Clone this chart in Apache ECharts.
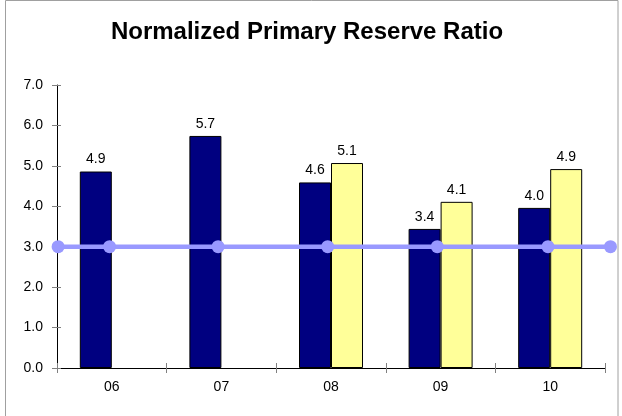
<!DOCTYPE html>
<html>
<head>
<meta charset="utf-8">
<script src="https://cdn.jsdelivr.net/npm/echarts@6/dist/echarts.min.js"></script>
<style>
html,body{margin:0;padding:0;background:#fff;}
#chart{width:622px;height:416px;}
</style>
</head>
<body>
<div id="chart"></div>
<script>
var categories = ['06', '07', '08', '09', '10'];
var navyValues = [4.86, 5.74, 4.59, 3.44, 3.96];
var yellowValues = [null, null, 5.07, 4.11, 4.92];
var lineX = [-0.49, -0.02, 0.97, 1.97, 2.97, 3.98, 4.55];
var lineY = [3.0, 3.0, 3.0, 3.0, 3.0, 3.0, 3.0];
var yTicks = [0, 1, 2, 3, 4, 5, 6, 7];

var FONT = 'Liberation Sans, Arial, sans-serif';
var chart = echarts.init(document.getElementById('chart'), null, {renderer: 'canvas'});

var lineData = lineX.map(function (x, i) { return [x, lineY[i]]; });

var labelCfg = {
  show: true,
  position: 'top',
  distance: 5,
  color: '#000',
  fontFamily: FONT,
  fontSize: 14,
  formatter: function (p) { return p.value == null ? '' : Number(p.value).toFixed(1); }
};

chart.setOption({
  animation: false,
  backgroundColor: '#fff',
  graphic: [{
    type: 'rect',
    shape: {x: 5.5, y: 0.5, width: 612.5, height: 420},
    style: {fill: 'none', stroke: '#a0a0a0', lineWidth: 1},
    silent: true,
    z: -1
  }],
  title: {
    text: 'Normalized Primary Reserve Ratio',
    left: 302,
    textAlign: 'center',
    top: 15,
    textStyle: {fontFamily: FONT, fontSize: 24, fontWeight: 'bold', color: '#000'}
  },
  grid: {left: 57, right: 17, top: 85, bottom: 48, containLabel: false},
  xAxis: [{
    type: 'category',
    data: categories,
    axisLine: {show: true, onZero: false, lineStyle: {color: '#000', width: 1}},
    axisTick: {show: true, alignWithLabel: false, length: 5, inside: false, lineStyle: {color: '#808080'}},
    axisLabel: {color: '#000', fontFamily: FONT, fontSize: 14, margin: 12},
    splitLine: {show: false}
  }, {
    type: 'value',
    min: -0.5,
    max: 4.5,
    show: false,
    position: 'bottom'
  }, {
    type: 'category',
    data: categories,
    position: 'bottom',
    axisLine: {show: false, onZero: false},
    axisTick: {show: true, alignWithLabel: false, length: 5, inside: true, lineStyle: {color: '#808080'}},
    axisLabel: {show: false},
    splitLine: {show: false}
  }],
  yAxis: [{
    type: 'value',
    min: 0,
    max: 7,
    interval: 1,
    axisLine: {show: true, onZero: false, lineStyle: {color: '#000', width: 1}},
    axisTick: {show: true, length: 5, lineStyle: {color: '#808080'}},
    axisLabel: {color: '#000', fontFamily: FONT, fontSize: 14, margin: 14,
      formatter: function (v) { return v.toFixed(1); }},
    splitLine: {show: false}
  }, {
    type: 'value',
    min: 0,
    max: 7,
    interval: 1,
    position: 'left',
    axisLine: {show: false, onZero: false},
    axisTick: {show: true, inside: true, length: 4, lineStyle: {color: '#808080'}},
    axisLabel: {show: false},
    splitLine: {show: false}
  }],
  series: [{
    type: 'bar',
    name: 'navy',
    data: navyValues,
    barWidth: 32,
    barGap: '0%',
    itemStyle: {color: '#000080', borderColor: '#000', borderWidth: 1},
    label: labelCfg,
    z: 2
  }, {
    type: 'bar',
    name: 'yellow',
    data: yellowValues,
    barWidth: 32,
    barGap: '0%',
    itemStyle: {color: '#FFFF99', borderColor: '#000', borderWidth: 1},
    label: labelCfg,
    z: 2
  }, {
    type: 'line',
    name: 'target',
    xAxisIndex: 1,
    data: lineData,
    clip: false,
    symbol: 'circle',
    symbolSize: 13,
    showAllSymbol: true,
    lineStyle: {color: '#9999FF', width: 4.5},
    itemStyle: {color: '#9999FF'},
    z: 5
  }]
});
</script>
</body>
</html>
